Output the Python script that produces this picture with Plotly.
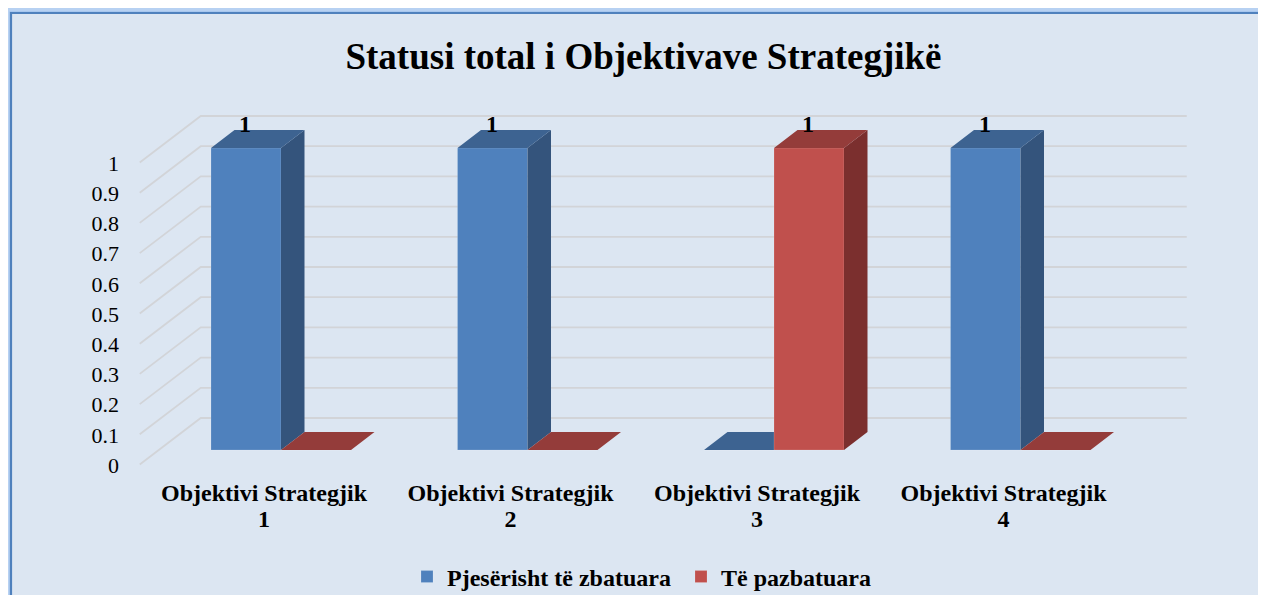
import plotly.graph_objects as go

# ---------------- data ----------------
categories = ["Objektivi Strategjik 1", "Objektivi Strategjik 2",
              "Objektivi Strategjik 3", "Objektivi Strategjik 4"]
series_names = ["Pjesërisht të zbatuara", "Të pazbatuara"]
blue_values = [1, 1, 0, 1]
red_values = [0, 0, 1, 0]
y_ticks = [0, 0.1, 0.2, 0.3, 0.4, 0.5, 0.6, 0.7, 0.8, 0.9, 1]
y_ticktext = ["0", "0.1", "0.2", "0.3", "0.4", "0.5", "0.6", "0.7", "0.8", "0.9", "1"]
title_text = "Statusi total i Objektivave Strategjikë"

# ---------------- styling / geometry ----------------
OFF = 8                      # page body margin of the browser
W, H = 1266 - 2 * OFF, 607 - 2 * OFF - 4
# plot area in screen pixels
PL, PR, PT, PB = 120, 1200, 100, 480
ML, MR, MT, MB = PL - OFF, W - (PR - OFF), PT - OFF, H - (PB - OFF)
X_PX_PER_UNIT = 246.5
Y_PX_PER_UNIT = 302.0
X0_PX, Y0_PX = 281.0, 450.0     # screen pixel of x=0 and y=0
x_range = [(PL - X0_PX) / X_PX_PER_UNIT, (PR - X0_PX) / X_PX_PER_UNIT]
y_range = [(Y0_PX - PB) / Y_PX_PER_UNIT, (Y0_PX - PT) / Y_PX_PER_UNIT]

bar_w = 70 / X_PX_PER_UNIT
dx = 23.5 / X_PX_PER_UNIT       # bar depth projection
dy = 18.0 / Y_PX_PER_UNIT
back_dx = 43 / X_PX_PER_UNIT    # back wall
back_dy = 32 / Y_PX_PER_UNIT
front_dx = 18 / X_PX_PER_UNIT   # front edge of side wall / floor
front_dy = 14.5 / Y_PX_PER_UNIT

FONT = "Liberation Serif, Times New Roman, serif"
colors = {
    "blue": dict(front="#4F81BD", side="#34547C", top="#3D6391"),
    "red": dict(front="#C0504D", side="#7B2F2E", top="#943C3A"),
}

xs = list(range(len(categories)))
fig = go.Figure()

# ---------------- 3D walls gridlines ----------------
gx, gy = [], []
xl, xr = -0.5, len(categories) - 0.5
for v in y_ticks:
    gx += [xl - front_dx, xl + back_dx, xr + back_dx, None]
    gy += [v - front_dy, v + back_dy, v + back_dy, None]
fig.add_trace(go.Scatter(x=gx, y=gy, mode="lines", line=dict(color="#D2D4D8", width=1.8),
                         showlegend=False, hoverinfo="skip", zorder=0))

# ---------------- bars ----------------
def add_series(vals, name, col, sign, z):
    centers = [x + sign * bar_w / 2 for x in xs]
    fig.add_trace(go.Bar(x=centers, y=vals, width=bar_w, name=name,
                         marker=dict(color=col["front"], line=dict(width=0.6, color="rgba(255,255,255,0.25)")),
                         hoverinfo="skip", zorder=z))
    sx, sy, tx, ty = [], [], [], []
    for c, v in zip(centers, vals):
        L, R = c - bar_w / 2, c + bar_w / 2
        sx += [R, R, R + dx, R + dx, R, None]
        sy += [0, v, v + dy, dy, 0, None]
        tx += [L, R, R + dx, L + dx, L, None]
        ty += [v, v, v + dy, v + dy, v, None]
    fig.add_trace(go.Scatter(x=sx, y=sy, mode="lines", fill="toself", fillcolor=col["side"],
                             line=dict(width=0), showlegend=False, hoverinfo="skip", zorder=z))
    fig.add_trace(go.Scatter(x=tx, y=ty, mode="lines", fill="toself", fillcolor=col["top"],
                             line=dict(width=0), showlegend=False, hoverinfo="skip", zorder=z))
    for c, v in zip(centers, vals):
        if v > 0:
            fig.add_annotation(x=c, y=v + dy, text=str(v), showarrow=False,
                               yanchor="bottom", yshift=-9, xshift=-1,
                               font=dict(family=FONT, size=24, color="black", weight="bold"))

add_series(blue_values, series_names[0], colors["blue"], -1, 1)
add_series(red_values, series_names[1], colors["red"], +1, 2)

# category tick texts: two lines with tighter line spacing
cat_ticktext = []
for c in categories:
    head, tail = c.rsplit(" ", 1)
    cat_ticktext.append('<span style="font-size:24px">%s</span><br>'
                        '<span style="font-size:24px">%s</span>' % (head, tail))

# ---------------- background frame ----------------
def px_x(p):  # screen px -> paper
    return (p - PL) / (PR - PL)

def px_y(p):
    return (PB - p) / (PB - PT)

frames = [
    (OFF, OFF, "#B7D1F2", None),
    (9.5, 11, "#A8C7EE", None),
    (11, 13, "#DCE6F2", "#4F81BD"),
]
shapes = []
for x0, y0, fc, lc in frames:
    shapes.append(dict(type="rect", xref="paper", yref="paper", layer="below",
                       x0=px_x(x0), x1=px_x(1300), y0=px_y(700), y1=px_y(y0),
                       fillcolor=fc,
                       line=dict(width=2.2 if lc else 0, color=lc or fc)))

fig.update_layout(
    width=W, height=H, autosize=False,
    margin=dict(l=ML, r=MR, t=MT, b=MB, pad=0, autoexpand=False),
    paper_bgcolor="#DCE6F2", plot_bgcolor="rgba(0,0,0,0)",
    shapes=shapes,
    barmode="overlay",
    font=dict(family=FONT, color="black"),
    title=dict(text=title_text, x=(643.5 - OFF) / W, xref="container", xanchor="center",
               y=1 - (56 - OFF) / H, yref="container", yanchor="middle",
               font=dict(family=FONT, size=37, color="black", weight="bold")),
    xaxis=dict(range=x_range, tickvals=xs, ticktext=cat_ticktext, showgrid=False,
               zeroline=False, showline=False, ticks="", ticklabelshift=-17,
               ticklabelstandoff=0, automargin=False,
               tickfont=dict(family=FONT, size=20, color="black", weight="bold"),
               fixedrange=True),
    yaxis=dict(range=y_range, tickvals=y_ticks, ticktext=y_ticktext, showgrid=False,
               zeroline=False, showline=False, ticks="", ticklabelshift=15,
               automargin=False,
               tickfont=dict(family="Liberation Serif", size=22, color="black", weight="normal"),
               fixedrange=True),
    legend=dict(orientation="h", xref="container", yref="container",
                x=(681 - OFF) / W, xanchor="center", y=1 - (577 - OFF) / H, yanchor="middle",
                font=dict(family=FONT, size=24, color="black", weight="bold"),
                bgcolor="rgba(0,0,0,0)", itemwidth=30, traceorder="normal",
                entrywidth=229, entrywidthmode="pixels"),
    showlegend=True,
)

fig.write_html("out.html")
